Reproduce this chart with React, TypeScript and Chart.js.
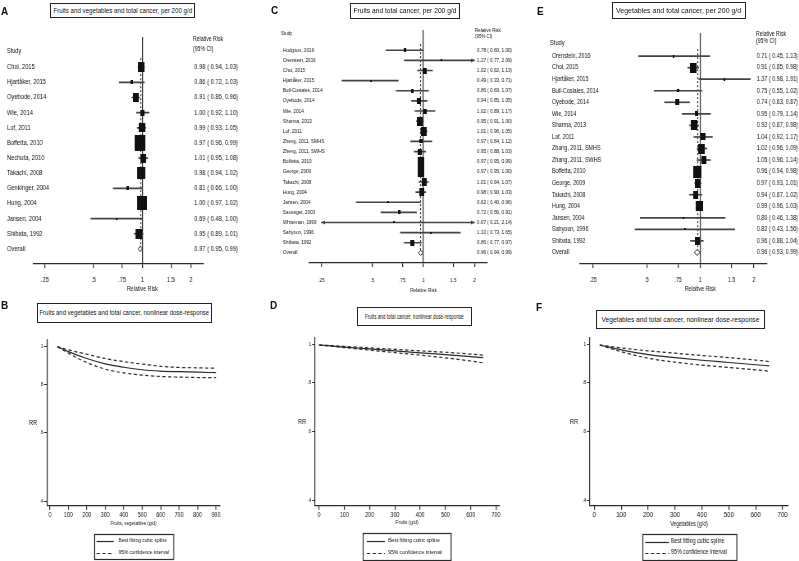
import React, { useEffect, useLayoutEffect, useRef, useState } from 'react';
import { Chart, registerables } from 'chart.js';

Chart.register(...registerables);

const FONT = "'Liberation Sans', Arial, sans-serif";
const BOLD = "'Liberation Sans', Arial, sans-serif";
const INK = '#111';
const LINE = '#2a2a2a';
const S = 0.82; // horizontal squeeze of the drawing (narrow type look)

// ---------- Panel A: fruits and vegetables, per 200 g/d ----------
const studiesA = ['Choi, 2015', 'Hjartåker, 2015', 'Oyebode, 2014', 'Wie, 2014', 'Lof, 2011', 'Boffetta, 2010', 'Nechuta, 2010', 'Takachi, 2008', 'Genkinger, 2004', 'Hung, 2004', 'Jansen, 2004', 'Shibata, 1992'];
const rrA = [0.98, 0.86, 0.91, 1.0, 0.99, 0.97, 1.01, 0.98, 0.81, 1.0, 0.69, 0.95];
const loA = [0.94, 0.72, 0.86, 0.92, 0.93, 0.96, 0.95, 0.94, 0.66, 0.97, 0.48, 0.89];
const hiA = [1.03, 1.03, 0.96, 1.1, 1.05, 0.99, 1.08, 1.02, 1.0, 1.02, 1.0, 1.01];
const weightA = [8.8, 1.4, 7.1, 3.9, 7.8, 22.4, 7.1, 12.5, 1.4, 18.4, 0.4, 8.8];
const overallA = [0.97, 0.95, 0.99];

// ---------- Panel C: fruits, per 200 g/d ----------
const studiesC = ['Hodgson, 2016', 'Orenstein, 2016', 'Choi, 2015', 'Hjartåker, 2015', 'Buil-Cosiales, 2014', 'Oyebode, 2014', 'Wie, 2014', 'Sharma, 2013', 'Lof, 2011', 'Zheng, 2011, SMHS', 'Zheng, 2011, SWHS', 'Boffetta, 2010', 'George, 2009', 'Takachi, 2008', 'Hung, 2004', 'Jansen, 2004', 'Sauvaget, 2003', 'Whiteman, 1999', 'Sahyoun, 1996', 'Shibata, 1992'];
const rrC = [0.78, 1.27, 1.02, 0.49, 0.86, 0.94, 1.02, 0.95, 1.01, 0.97, 0.95, 0.97, 0.97, 1.01, 0.98, 0.62, 0.72, 0.67, 1.1, 0.86];
const loC = [0.6, 0.77, 0.92, 0.33, 0.69, 0.85, 0.89, 0.91, 0.96, 0.84, 0.88, 0.95, 0.95, 0.94, 0.9, 0.4, 0.56, 0.21, 0.73, 0.77];
const hiC = [1.0, 2.09, 1.13, 0.71, 1.07, 1.05, 1.17, 1.0, 1.05, 1.12, 1.03, 0.99, 1.0, 1.07, 1.03, 0.96, 0.91, 2.14, 1.65, 0.97];
const weightC = [2.2, 0.3, 4.8, 0.3, 2.2, 4.8, 3.3, 10.8, 10.8, 2.7, 5.6, 13.5, 13.5, 8.4, 8.4, 0.7, 2.2, 0.15, 0.5, 4.8];
const overallC = [0.96, 0.94, 0.99];

// ---------- Panel E: vegetables, per 200 g/d ----------
const studiesE = ['Orenstein, 2016', 'Choi, 2015', 'Hjartåker, 2015', 'Buil-Cosiales, 2014', 'Oyebode, 2014', 'Wie, 2014', 'Sharma, 2013', 'Lof, 2011', 'Zhang, 2011, SMHS', 'Zhang, 2011, SWHS', 'Boffetta, 2010', 'George, 2009', 'Takachi, 2008', 'Hung, 2004', 'Jansen, 2004', 'Sahyoun, 1996', 'Shibata, 1992'];
const rrE = [0.71, 0.91, 1.37, 0.75, 0.74, 0.95, 0.92, 1.04, 1.02, 1.05, 0.96, 0.97, 0.94, 0.99, 0.8, 0.82, 0.96];
const loE = [0.45, 0.85, 0.98, 0.55, 0.63, 0.79, 0.87, 0.92, 0.96, 0.96, 0.94, 0.93, 0.87, 0.96, 0.46, 0.43, 0.88];
const hiE = [1.13, 0.98, 1.91, 1.02, 0.87, 1.14, 0.98, 1.17, 1.09, 1.14, 0.98, 1.01, 1.02, 1.03, 1.38, 1.56, 1.04];
const weightE = [0.9, 10.4, 0.9, 1.2, 3.7, 2.5, 10.4, 5.1, 10.4, 6.4, 14.7, 8.3, 6.4, 11.3, 0.4, 0.4, 6.4];
const overallE = [0.96, 0.93, 0.99];

const forestTicks = [0.25, 0.5, 0.75, 1, 1.5, 2];
const forestTickLabels = ['.25', '.5', '.75', '1', '1.5', '2'];
const forestAxisTitle = 'Relative Risk';

// ---------- Nonlinear dose-response ----------
const doseYTicks = [0.4, 0.6, 0.8, 1];
const doseYTickLabels = ['.4', '.6', '.8', '1'];
const doseXTicksB = [0, 100, 200, 300, 400, 500, 600, 700, 800, 900];
const doseXTicksDF = [0, 100, 200, 300, 400, 500, 600, 700];

const doseXB = [40, 100, 200, 300, 400, 500, 600, 700, 800, 900];
const doseRRB = [1.0, 0.971, 0.932, 0.903, 0.885, 0.872, 0.865, 0.862, 0.86, 0.857];
const doseUpB = [1.0, 0.981, 0.956, 0.932, 0.915, 0.902, 0.89, 0.884, 0.882, 0.88];
const doseLoB = [1.0, 0.962, 0.91, 0.875, 0.856, 0.845, 0.838, 0.835, 0.833, 0.832];

const doseXD = [0, 100, 200, 300, 400, 500, 600, 650];
const doseRRD = [1.0, 0.988, 0.977, 0.966, 0.955, 0.945, 0.934, 0.928];
const doseUpD = [1.0, 0.992, 0.983, 0.975, 0.966, 0.958, 0.948, 0.942];
const doseLoD = [1.0, 0.985, 0.97, 0.956, 0.942, 0.927, 0.91, 0.9];

const doseXF = [20, 100, 200, 300, 400, 500, 600, 650];
const doseRRF = [1.0, 0.972, 0.945, 0.928, 0.914, 0.902, 0.89, 0.884];
const doseUpF = [1.0, 0.983, 0.966, 0.953, 0.94, 0.928, 0.915, 0.907];
const doseLoF = [1.0, 0.961, 0.925, 0.904, 0.888, 0.876, 0.864, 0.857];

const legendLabels = ['Best fitting cubic spline', '95% confidence interval'];

const fmtCI = (r: number, l: number, h: number) => `${r.toFixed(2)} ( ${l.toFixed(2)}, ${h.toFixed(2)})`;

function makeBox(weight: number, k: number, sx: number): HTMLCanvasElement {
  const dw = k * Math.sqrt(weight);
  const w = Math.max(2, Math.round(dw / sx));
  const h = Math.max(2, Math.round(dw * 1.45));
  const c = document.createElement('canvas');
  c.width = w;
  c.height = h;
  const g = c.getContext('2d')!;
  g.fillStyle = '#111';
  g.fillRect(0, 0, w, h);
  return c;
}

function arrow(ctx: CanvasRenderingContext2D, x: number, y: number, dir: number, len: number) {
  ctx.beginPath();
  ctx.moveTo(x, y);
  ctx.lineTo(x - dir * len, y - 2);
  ctx.lineTo(x - dir * len, y + 2);
  ctx.closePath();
  ctx.fill();
}

function forestExtras(cfg: any) {
  return {
    id: 'forestExtras',
    beforeDatasetsDraw(chart: any) {
      const { ctx } = chart;
      const xs = chart.scales.x;
      const ys = chart.scales.y;
      const step = ys.getPixelForValue(1) - ys.getPixelForValue(0);
      const x = Math.round(xs.getPixelForValue(cfg.overall[0])) + 0.5;
      ctx.save();
      ctx.strokeStyle = LINE;
      ctx.lineWidth = 1.2;
      ctx.setLineDash([2, 2]);
      ctx.beginPath();
      ctx.moveTo(x, ys.getPixelForValue(cfg.first) - step * 0.6);
      ctx.lineTo(x, ys.getPixelForValue(cfg.overallIdx));
      ctx.stroke();
      ctx.restore();
    },
    afterDatasetsDraw(chart: any) {
      const { ctx } = chart;
      const xs = chart.scales.x;
      const ys = chart.scales.y;
      const yO = ys.getPixelForValue(cfg.overallIdx);
      const xl = xs.getPixelForValue(cfg.overall[1]);
      const xm = xs.getPixelForValue(cfg.overall[0]);
      const xr = xs.getPixelForValue(cfg.overall[2]);
      ctx.save();
      ctx.setLineDash([]);
      ctx.fillStyle = '#fff';
      ctx.strokeStyle = LINE;
      ctx.lineWidth = 1;
      ctx.beginPath();
      ctx.moveTo(xl - 0.6, yO);
      ctx.lineTo(xm, yO - cfg.diamondH / 2);
      ctx.lineTo(xr + 0.6, yO);
      ctx.lineTo(xm, yO + cfg.diamondH / 2);
      ctx.closePath();
      ctx.fill();
      ctx.stroke();
      ctx.fillStyle = '#444';
      cfg.lo.forEach((lo: number, i: number) => {
        const y = ys.getPixelForValue(cfg.first + i);
        if (lo < cfg.clipLo) arrow(ctx, xs.getPixelForValue(cfg.clipLo), y, -1, cfg.arrowLen);
        if (cfg.hi[i] > cfg.clipHi) arrow(ctx, xs.getPixelForValue(cfg.clipHi), y, 1, cfg.arrowLen);
      });
      ctx.restore();
    },
    afterDraw(chart: any) {
      const { ctx } = chart;
      const xs = chart.scales.x;
      ctx.save();
      ctx.fillStyle = INK;
      ctx.font = `${cfg.titleFont}px ${FONT}`;
      ctx.textAlign = 'center';
      ctx.textBaseline = 'middle';
      ctx.fillText(cfg.title, xs.getPixelForValue(1), cfg.titleY);
      ctx.restore();
    },
  };
}

type ForestL = {
  left: number; top: number; width: number; height: number;
  padL: number; leftW: number; rightW: number; chartTop: number; xAxisH: number;
  ciPad: number; rowFont: number; tickFont: number; tickPad: number; titleFont: number; titleY: number;
  boxK: number; diamondH: number;
};

function ForestChart(props: { studies: string[]; rr: number[]; lo: number[]; hi: number[]; weight: number[]; overall: number[]; L: ForestL }) {
  const ref = useRef<HTMLCanvasElement>(null);
  const W = Math.round(props.L.width / S);
  useEffect(() => {
    const { studies, rr, lo, hi, weight, overall, L } = props;
    const sx = L.width / W;
    const h = (v: number) => v / sx;
    const clipLo = forestTicks[0];
    const clipHi = forestTicks[forestTicks.length - 1];
    const labels = ['', '', ...studies, 'Overall', ''];
    const ciLabels = ['', '', ...studies.map((_, i) => fmtCI(rr[i], lo[i], hi[i])), fmtCI(overall[0], overall[1], overall[2]), ''];
    const first = 2;
    const overallIdx = labels.length - 2;
    const ciBars = labels.map((_, idx) => {
      const i = idx - first;
      return i >= 0 && i < studies.length ? [Math.max(lo[i], clipLo), Math.min(hi[i], clipHi)] : null;
    });
    const rowFont = { family: FONT, size: L.rowFont };
    const fixY = (w: number) => (s: any) => {
      s.width = w;
      s.paddingTop = 0;
      s.paddingBottom = 0;
    };
    const chart = new Chart(ref.current as HTMLCanvasElement, {
      type: 'bar',
      data: {
        labels,
        datasets: [
          {
            type: 'scatter',
            data: studies.map((s, i) => ({ x: rr[i], y: s })),
            pointStyle: weight.map((w) => makeBox(w, L.boxK, sx)),
            pointRadius: 3,
            backgroundColor: '#111',
            borderWidth: 0,
          } as any,
          {
            type: 'bar',
            data: ciBars,
            backgroundColor: '#444',
            barThickness: 1,
            borderWidth: 0,
          } as any,
        ],
      },
      options: {
        responsive: false,
        animation: false,
        devicePixelRatio: 1,
        events: [],
        indexAxis: 'y',
        layout: { padding: { left: h(L.padL), right: 0, top: L.chartTop, bottom: 0 } },
        plugins: { legend: { display: false }, tooltip: { enabled: false } },
        scales: {
          x: {
            type: 'logarithmic',
            min: 0.211,
            max: 2.37,
            afterBuildTicks: (s: any) => {
              s.ticks = forestTicks.map((v) => ({ value: v }));
            },
            ticks: {
              callback: (_v: any, i: number) => forestTickLabels[i],
              font: { family: FONT, size: L.tickFont },
              color: INK,
              padding: L.tickPad,
              maxRotation: 0,
              minRotation: 0,
              autoSkip: false,
            },
            grid: {
              color: (c: any) => (c.tick && c.tick.value === 1 ? '#333' : 'rgba(0,0,0,0)'),
              tickColor: LINE,
              tickLength: 4,
              lineWidth: 1.2,
            },
            border: { display: true, color: LINE, width: 1.2 },
            afterFit: (s: any) => {
              s.height = L.xAxisH;
              s.paddingLeft = 0;
              s.paddingRight = 0;
            },
          },
          y: {
            type: 'category',
            axis: 'y',
            position: 'left',
            offset: false,
            grid: { display: false, drawTicks: false },
            border: { display: false },
            ticks: { mirror: true, crossAlign: 'near', autoSkip: false, padding: -h(L.leftW), font: rowFont, color: INK },
            afterFit: fixY(h(L.leftW)),
          },
          y2: {
            type: 'category',
            axis: 'y',
            position: 'right',
            labels: ciLabels,
            offset: false,
            grid: { display: false, drawTicks: false },
            border: { display: false },
            ticks: { mirror: true, crossAlign: 'near', autoSkip: false, padding: h(L.ciPad), font: rowFont, color: INK },
            afterFit: fixY(h(L.rightW)),
          },
        } as any,
      } as any,
      plugins: [
        forestExtras({
          overall, lo, hi, first, overallIdx, clipLo, clipHi, arrowLen: h(3.5),
          diamondH: L.diamondH, title: forestAxisTitle, titleFont: L.titleFont, titleY: L.titleY,
        }),
      ],
    });
    return () => chart.destroy();
  }, []);
  const { L } = props;
  return (
    <canvas
      ref={ref}
      width={W}
      height={L.height}
      style={{ position: 'absolute', left: L.left, top: L.top, width: L.width, height: L.height }}
    />
  );
}

function doseExtras(cfg: any) {
  return {
    id: 'doseExtras',
    afterDraw(chart: any) {
      const { ctx, chartArea } = chart;
      ctx.save();
      ctx.fillStyle = INK;
      ctx.font = `${cfg.rrFont}px ${FONT}`;
      ctx.textAlign = 'center';
      ctx.textBaseline = 'middle';
      ctx.fillText('RR', cfg.rrX, (chartArea.top + chartArea.bottom) / 2);
      const cx = (chartArea.left + chartArea.right) / 2;
      const bx = Math.round(cx - cfg.boxW / 2) + 0.5;
      ctx.strokeStyle = LINE;
      ctx.lineWidth = 1.2;
      ctx.strokeRect(bx, cfg.boxTop + 0.5, cfg.boxW, cfg.boxH);
      ctx.font = `${cfg.legFont}px ${FONT}`;
      ctx.textAlign = 'left';
      [0, 1].forEach((k) => {
        const ds = chart.data.datasets[k];
        const y = cfg.rowY[k];
        ctx.setLineDash(ds.borderDash || []);
        ctx.strokeStyle = ds.borderColor;
        ctx.lineWidth = ds.borderWidth;
        ctx.beginPath();
        ctx.moveTo(bx + cfg.inset, Math.round(y) + 0.5);
        ctx.lineTo(bx + cfg.inset + cfg.lineLen, Math.round(y) + 0.5);
        ctx.stroke();
        ctx.setLineDash([]);
        ctx.fillText(ds.label, bx + cfg.inset + cfg.lineLen + cfg.gap, y);
      });
      ctx.restore();
    },
  };
}

type DoseL = {
  left: number; top: number; width: number; height: number;
  padT: number; padR: number; padB: number; yW: number; xAxisH: number;
  xMin: number; xMax: number; yMin: number; yMax: number;
  tickFont: number; tickPad: number; yTickFont: number; titleFont: number;
  rrX: number; rrFont: number; boxW: number; boxTop: number; boxH: number;
  inset: number; lineLen: number; gap: number; rowY: number[]; legFont: number;
};

function DoseChart(props: { x: number[]; rr: number[]; up: number[]; lo: number[]; xTicks: number[]; xLabel: string; L: DoseL }) {
  const ref = useRef<HTMLCanvasElement>(null);
  const W = Math.round(props.L.width / S);
  useEffect(() => {
    const { x, rr, up, lo, xTicks, xLabel, L } = props;
    const sx = L.width / W;
    const h = (v: number) => v / sx;
    const mk = (arr: number[]) => x.map((v, i) => ({ x: v, y: arr[i] }));
    const common = { pointRadius: 0, borderWidth: 1.2, fill: false, cubicInterpolationMode: 'monotone', borderColor: LINE };
    const chart = new Chart(ref.current as HTMLCanvasElement, {
      type: 'line',
      data: {
        datasets: [
          { ...common, label: legendLabels[0], data: mk(rr) } as any,
          { ...common, label: legendLabels[1], data: mk(up), borderDash: [4, 3] } as any,
          { ...common, label: legendLabels[1], data: mk(lo), borderDash: [4, 3] } as any,
        ],
      },
      options: {
        responsive: false,
        animation: false,
        devicePixelRatio: 1,
        events: [],
        layout: { padding: { left: 0, right: h(L.padR), top: L.padT, bottom: L.padB } },
        plugins: { legend: { display: false }, tooltip: { enabled: false } },
        scales: {
          x: {
            type: 'linear',
            min: L.xMin,
            max: L.xMax,
            afterBuildTicks: (s: any) => {
              s.ticks = xTicks.map((v) => ({ value: v }));
            },
            ticks: { font: { family: FONT, size: L.tickFont }, color: INK, padding: L.tickPad, maxRotation: 0, autoSkip: false },
            grid: { drawOnChartArea: false, tickLength: 4, color: LINE, lineWidth: 1.2 },
            border: { color: LINE, width: 1.2 },
            title: { display: true, text: xLabel, font: { family: FONT, size: L.titleFont }, color: INK, padding: 0 },
            afterFit: (s: any) => {
              s.height = L.xAxisH;
              s.paddingLeft = 0;
              s.paddingRight = 0;
            },
          },
          y: {
            type: 'logarithmic',
            min: L.yMin,
            max: L.yMax,
            afterBuildTicks: (s: any) => {
              s.ticks = doseYTicks.map((v) => ({ value: v }));
            },
            ticks: {
              callback: (_v: any, i: number) => doseYTickLabels[i],
              font: { family: FONT, size: L.yTickFont },
              color: INK,
              padding: 1,
              autoSkip: false,
            },
            grid: { drawOnChartArea: false, tickLength: h(3), color: LINE, lineWidth: 1 },
            border: { color: LINE, width: 1.2 },
            afterFit: (s: any) => {
              s.width = h(L.yW);
              s.paddingTop = 0;
              s.paddingBottom = 0;
            },
          },
        } as any,
      } as any,
      plugins: [
        doseExtras({
          ...L,
          rrX: h(L.rrX), boxW: h(L.boxW), inset: h(L.inset), lineLen: h(L.lineLen), gap: h(L.gap),
        }),
      ],
    });
    return () => chart.destroy();
  }, []);
  const { L } = props;
  return (
    <canvas
      ref={ref}
      width={W}
      height={L.height}
      style={{ position: 'absolute', left: L.left, top: L.top, width: L.width, height: L.height }}
    />
  );
}

const LA: ForestL = { left: 0, top: 0, width: 266, height: 293, padL: 7, leftW: 26, rightW: 63, chartTop: 37, xAxisH: 29, ciPad: 35, rowFont: 7, tickFont: 7, tickPad: 8, titleFont: 6.5, titleY: 289, boxK: 2.26, diamondH: 6 };
const LC: ForestL = { left: 270, top: 0, width: 265, height: 294, padL: 13, leftW: 26, rightW: 48, chartTop: 30, xAxisH: 31, ciPad: 25, rowFont: 5.6, tickFont: 5.8, tickPad: 10, titleFont: 5.5, titleY: 290, boxK: 1.82, diamondH: 5 };
const LE: ForestL = { left: 535, top: 0, width: 264, height: 293, padL: 17, leftW: 28, rightW: 32, chartTop: 33, xAxisH: 29, ciPad: 31, rowFont: 6.6, tickFont: 6.3, tickPad: 8, titleFont: 6.5, titleY: 289, boxK: 2.09, diamondH: 6 };

const LB: DoseL = { left: 0, top: 330, width: 267, height: 231, padT: 10, padR: 47, padB: 34.7, yW: 47, xAxisH: 20.6, xMin: -16, xMax: 922, yMin: 0.3907, yMax: 1.04, tickFont: 6.5, tickPad: 2, yTickFont: 5.5, titleFont: 5.5, rrX: 33, rrFont: 7, boxW: 79, boxTop: 204, boxH: 25, inset: 2, lineLen: 17, gap: 5, rowY: [210.7, 222.7], legFont: 5.8 };
const LD: DoseL = { left: 270, top: 330, width: 265, height: 231, padT: 8, padR: 36, padB: 35, yW: 45, xAxisH: 20.3, xMin: -16, xMax: 712, yMin: 0.388, yMax: 1.042, tickFont: 6.5, tickPad: 2, yTickFont: 5.5, titleFont: 5.8, rrX: 32, rrFont: 7, boxW: 88, boxTop: 203, boxH: 27, inset: 3.7, lineLen: 18, gap: 3.3, rowY: [210.7, 222.7], legFont: 6.2 };
const LF: DoseL = { left: 535, top: 330, width: 264, height: 231, padT: 8, padR: 11, padB: 33.4, yW: 55, xAxisH: 21.9, xMin: -16, xMax: 720, yMin: 0.388, yMax: 1.042, tickFont: 7.5, tickPad: 1, yTickFont: 5.5, titleFont: 6.3, rrX: 39, rrFont: 7, boxW: 94, boxTop: 204, boxH: 26, inset: 2.3, lineLen: 24, gap: 2, rowY: [211.7, 222.7], legFont: 6.4 };

const letters = [
  { t: 'A', x: 1, y: 6.5 },
  { t: 'B', x: 1, y: 300.5 },
  { t: 'C', x: 271, y: 6 },
  { t: 'D', x: 270, y: 301 },
  { t: 'E', x: 537, y: 6.5 },
  { t: 'F', x: 536, y: 303 },
];

// tw = width of the printed title text
const titleBoxes = [
  { t: 'Fruits and vegetables and total cancer, per 200 g/d', x: 50, y: 3, w: 145, h: 15, f: 7, tw: 139 },
  { t: 'Fruits and vegetables and total cancer, nonlinear dose-response', x: 37, y: 303, w: 175, h: 20, f: 7.2, tw: 170 },
  { t: 'Fruits and total cancer, per 200 g/d', x: 350, y: 3, w: 110, h: 16, f: 7.5, tw: 103 },
  { t: 'Fruits and total cancer, nonlinear dose-response', x: 357, y: 307, w: 115, h: 19, f: 7.6, tw: 99 },
  { t: 'Vegetables and total cancer, per 200 g/d', x: 612, y: 2, w: 134, h: 17, f: 8, tw: 125 },
  { t: 'Vegetables and total cancer, nonlinear dose-response', x: 596, y: 310, w: 169, h: 19, f: 8, tw: 158 },
];

const headers = [
  { t: ['Study'], x: 7, y: 45.5, f: 6.8, lh: 9.5 },
  { t: ['Relative Risk', '(95% CI)'], x: 193, y: 34.3, f: 6.3, lh: 9.5 },
  { t: ['Study'], x: 281, y: 30.5, f: 5.4, lh: 5.5 },
  { t: ['Relative Risk', '(95% CI)'], x: 475, y: 28.3, f: 5.4, lh: 5.5 },
  { t: ['Study'], x: 550, y: 39.3, f: 7, lh: 7.5 },
  { t: ['Relative Risk', '(95% CI)'], x: 756, y: 29.5, f: 6.3, lh: 7.7 },
];

function TitleBox({ b }: { b: (typeof titleBoxes)[number] }) {
  const ref = useRef<HTMLSpanElement>(null);
  const [sc, setSc] = useState(S);
  useLayoutEffect(() => {
    const w = ref.current ? ref.current.offsetWidth : 0;
    if (w > 0) setSc(b.tw / w);
  }, []);
  return (
    <div
      style={{
        position: 'absolute', left: b.x, top: b.y, width: b.w, height: b.h, boxSizing: 'border-box',
        border: '1px solid #222', display: 'flex', alignItems: 'center', justifyContent: 'center',
        background: '#fff', overflow: 'visible',
      }}
    >
      <span
        ref={ref}
        style={{ display: 'inline-block', flex: 'none', whiteSpace: 'nowrap', fontFamily: FONT, fontSize: b.f, lineHeight: 1, color: INK, transform: `scaleX(${sc})`, transformOrigin: 'center center' }}
      >
        {b.t}
      </span>
    </div>
  );
}

export default function App() {
  return (
    <div style={{ position: 'fixed', left: 0, top: 0, width: 799, height: 561, background: '#fff', overflow: 'hidden' }}>
      <ForestChart studies={studiesA} rr={rrA} lo={loA} hi={hiA} weight={weightA} overall={overallA} L={LA} />
      <ForestChart studies={studiesC} rr={rrC} lo={loC} hi={hiC} weight={weightC} overall={overallC} L={LC} />
      <ForestChart studies={studiesE} rr={rrE} lo={loE} hi={hiE} weight={weightE} overall={overallE} L={LE} />
      <DoseChart x={doseXB} rr={doseRRB} up={doseUpB} lo={doseLoB} xTicks={doseXTicksB} xLabel="Fruits, vegetables (g/d)" L={LB} />
      <DoseChart x={doseXD} rr={doseRRD} up={doseUpD} lo={doseLoD} xTicks={doseXTicksDF} xLabel="Fruits (g/d)" L={LD} />
      <DoseChart x={doseXF} rr={doseRRF} up={doseUpF} lo={doseLoF} xTicks={doseXTicksDF} xLabel="Vegetables (g/d)" L={LF} />
      {letters.map((l) => (
        <div key={l.t} style={{ position: 'absolute', left: l.x, top: l.y, fontFamily: BOLD, fontWeight: 700, fontSize: 10, lineHeight: 1, color: INK }}>
          {l.t}
        </div>
      ))}
      {titleBoxes.map((b) => (
        <TitleBox key={b.t} b={b} />
      ))}
      {headers.map((hd, i) => (
        <div key={i} style={{ position: 'absolute', left: hd.x, top: hd.y, fontFamily: FONT, fontSize: hd.f, lineHeight: `${hd.lh}px`, color: INK, whiteSpace: 'nowrap', transform: `scaleX(${S})`, transformOrigin: 'left top' }}>
          {hd.t.map((s) => (
            <div key={s}>{s}</div>
          ))}
        </div>
      ))}
    </div>
  );
}
